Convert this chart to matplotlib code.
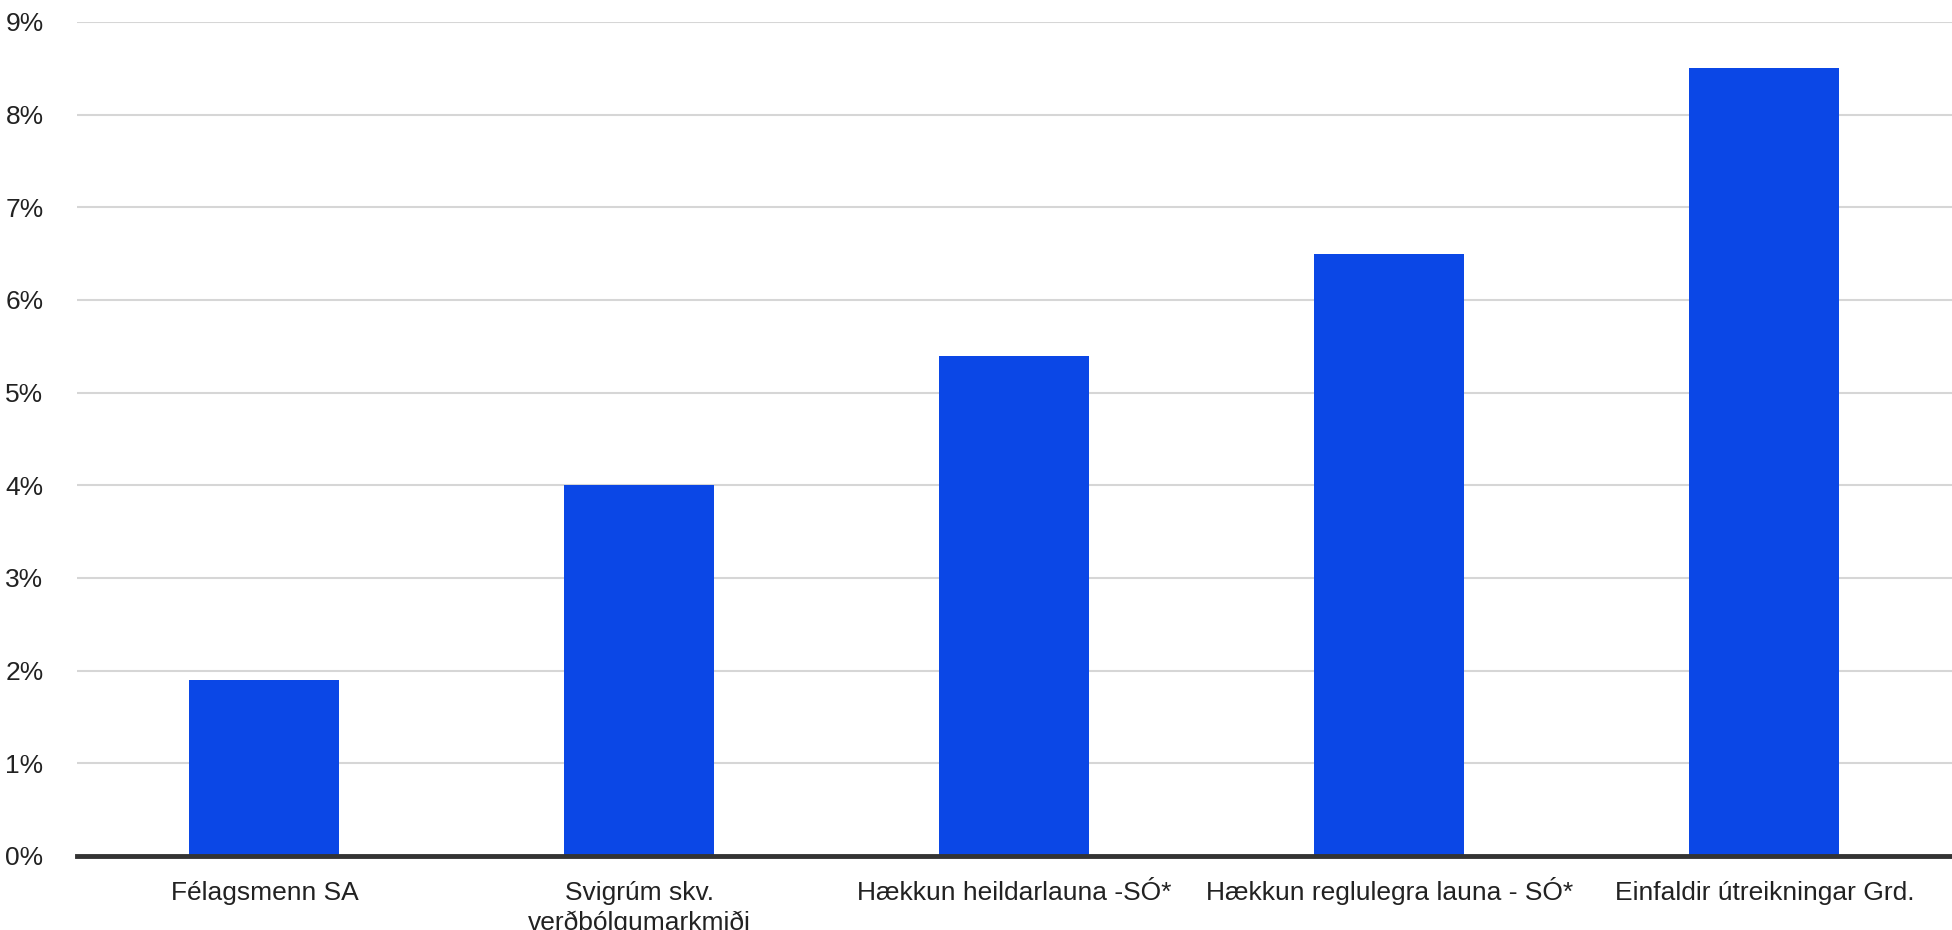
import matplotlib
matplotlib.use('Agg')
import matplotlib.pyplot as plt
from matplotlib.ticker import FuncFormatter

plt.rcParams['font.family'] = ['Liberation Sans', 'DejaVu Sans']

categories = [
    'Félagsmenn SA',
    'Svigrúm skv.\nverðbólgumarkmiði',
    'Hækkun heildarlauna -SÓ*',
    'Hækkun reglulegra launa - SÓ*',
    'Einfaldir útreikningar Grd.',
]
values = [1.9, 4.0, 5.4, 6.5, 8.5]
y_ticks = list(range(0, 10))

LABEL_SIZE = 19
TEXT_COLOR = '#222222'

fig = plt.figure(figsize=(19.52, 9.30), dpi=100)
ax = fig.add_axes([0.0394, 0.0796, 0.9606, 0.8968])

x = list(range(len(categories)))
ax.bar(x, values, width=0.4, color='#0b47e6', zorder=3)

ax.set_xlim(-0.5, len(categories) - 0.5)
ax.set_ylim(0, 9)
ax.set_yticks(y_ticks)
ax.yaxis.set_major_formatter(FuncFormatter(lambda v, _: f'{v:.0f}%'))

# first line of each label sits on a common baseline, extra lines go below it
first_lines = [c.split('\n')[0] for c in categories]
ax.set_xticks(x)
ax.set_xticklabels(first_lines, va='baseline')
for i, c in enumerate(categories):
    for k, line in enumerate(c.split('\n')[1:], start=1):
        ax.annotate(line, xy=(i, 0), xycoords=('data', 'axes fraction'),
                    xytext=(0, -31.5 - k * 22), textcoords='offset points',
                    ha='center', va='baseline', fontsize=LABEL_SIZE,
                    color=TEXT_COLOR, annotation_clip=False)

ax.grid(axis='y', color='#d6d6d6', linewidth=1.5, zorder=0)
for side in ('top', 'right', 'left'):
    ax.spines[side].set_visible(False)
ax.spines['bottom'].set_color('#333333')
ax.spines['bottom'].set_linewidth(3.5)
ax.spines['bottom'].set_zorder(4)

ax.tick_params(axis='y', length=0, pad=24, labelsize=LABEL_SIZE, labelcolor=TEXT_COLOR)
ax.tick_params(axis='x', length=0, pad=31.5, labelsize=LABEL_SIZE, labelcolor=TEXT_COLOR)

fig.savefig('out.png', dpi=100)
